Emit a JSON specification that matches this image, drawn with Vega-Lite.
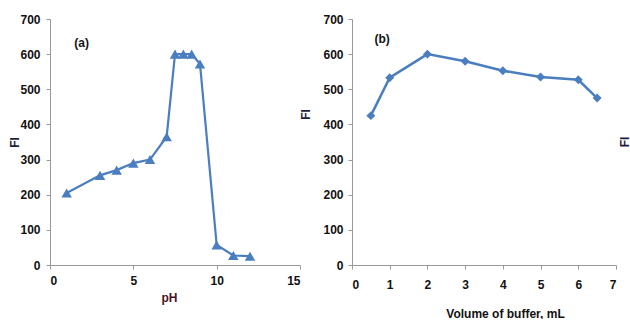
{
  "$schema": "https://vega.github.io/schema/vega-lite/v6.json",
  "padding": {"left": 8, "top": 13, "right": 0, "bottom": 0},
  "autosize": "pad",
  "background": "white",
  "spacing": -2,
  "config": {
    "view": {"stroke": null},
    "axis": {
      "labelFont": "Liberation Sans", "labelFontWeight": "bold", "labelFontSize": 12, "labelColor": "#111",
      "titleFont": "Liberation Sans", "titleFontWeight": "bold", "titleFontSize": 12,
      "domainColor": "#999", "tickColor": "#999", "tickSize": 4, "grid": false, "labelOverlap": false
    }
  },
  "datasets": {
    "ph": [
      {"pH": 1, "FI": 205}, {"pH": 3, "FI": 255}, {"pH": 4, "FI": 270}, {"pH": 5, "FI": 290},
      {"pH": 6, "FI": 300}, {"pH": 7, "FI": 365}, {"pH": 7.5, "FI": 600}, {"pH": 8, "FI": 600},
      {"pH": 8.5, "FI": 600}, {"pH": 9, "FI": 572}, {"pH": 10, "FI": 57}, {"pH": 11, "FI": 27},
      {"pH": 12, "FI": 25}
    ],
    "vol": [
      {"vol": 0.5, "FI": 425}, {"vol": 1, "FI": 533}, {"vol": 2, "FI": 600}, {"vol": 3, "FI": 580},
      {"vol": 4, "FI": 553}, {"vol": 5, "FI": 535}, {"vol": 6, "FI": 527}, {"vol": 6.5, "FI": 475}
    ],
    "labA": [{"pH": 1.9, "FI": 631, "t": "(a)"}],
    "labB": [{"vol": 0.8, "FI": 643, "t": "(b)"}, {"vol": 7.24, "FI": 350, "t": "FI"}]
  },
  "hconcat": [
    {
      "width": 250, "height": 246,
      "encoding": {
        "x": {"field": "pH", "type": "quantitative", "scale": {"domain": [0, 15], "nice": false},
              "axis": {"values": [0, 5, 10, 15], "title": "pH", "titleColor": "#4a1428", "labelPadding": 6, "titlePadding": 6, "titleX": 119}},
        "y": {"field": "FI", "type": "quantitative", "scale": {"domain": [0, 700], "nice": false},
              "axis": {"values": [0, 100, 200, 300, 400, 500, 600, 700], "title": "FI", "titleColor": "#1e1e3c", "labelPadding": 6, "titlePadding": 2, "titleX": -29}}
      },
      "layer": [
        {
          "data": {"name": "ph"},
          "mark": {"type": "line", "color": "#4a7ebf", "strokeWidth": 2.2, "point": {"shape": "triangle-up", "size": 110, "filled": true, "color": "#4a7ebf"}}
        },
        {
          "data": {"name": "labA"},
          "mark": {"type": "text", "font": "Liberation Sans", "fontWeight": "bold", "fontSize": 12, "color": "#111"},
          "encoding": {"text": {"field": "t"}}
        }
      ]
    },
    {
      "width": 264, "height": 246,
      "encoding": {
        "x": {"field": "vol", "type": "quantitative", "scale": {"domain": [0, 7], "nice": false},
              "axis": {"values": [0, 1, 2, 3, 4, 5, 6, 7], "title": "Volume of buffer, mL", "titleColor": "#111", "labelPadding": 10, "titlePadding": 18, "titleX": 153}},
        "y": {"field": "FI", "type": "quantitative", "scale": {"domain": [0, 700], "nice": false},
              "axis": {"values": [0, 100, 200, 300, 400, 500, 600, 700], "title": "FI", "titleColor": "#1e1e3c", "labelPadding": 5, "titlePadding": 14, "titleX": -40, "titleY": 95}}
      },
      "layer": [
        {
          "data": {"name": "vol"},
          "mark": {"type": "line", "color": "#4a7ebf", "strokeWidth": 2.5, "point": {"shape": "diamond", "size": 80, "filled": true, "color": "#4a7ebf"}}
        },
        {
          "data": {"name": "labB"},
          "mark": {"type": "text", "font": "Liberation Sans", "fontWeight": "bold", "fontSize": 12},
          "encoding": {
            "text": {"field": "t"},
            "angle": {"condition": {"test": "datum.t === 'FI'", "value": 270}, "value": 0},
            "color": {"condition": {"test": "datum.t === 'FI'", "value": "#1e1e3c"}, "value": "#111"}
          }
        }
      ]
    }
  ]
}
